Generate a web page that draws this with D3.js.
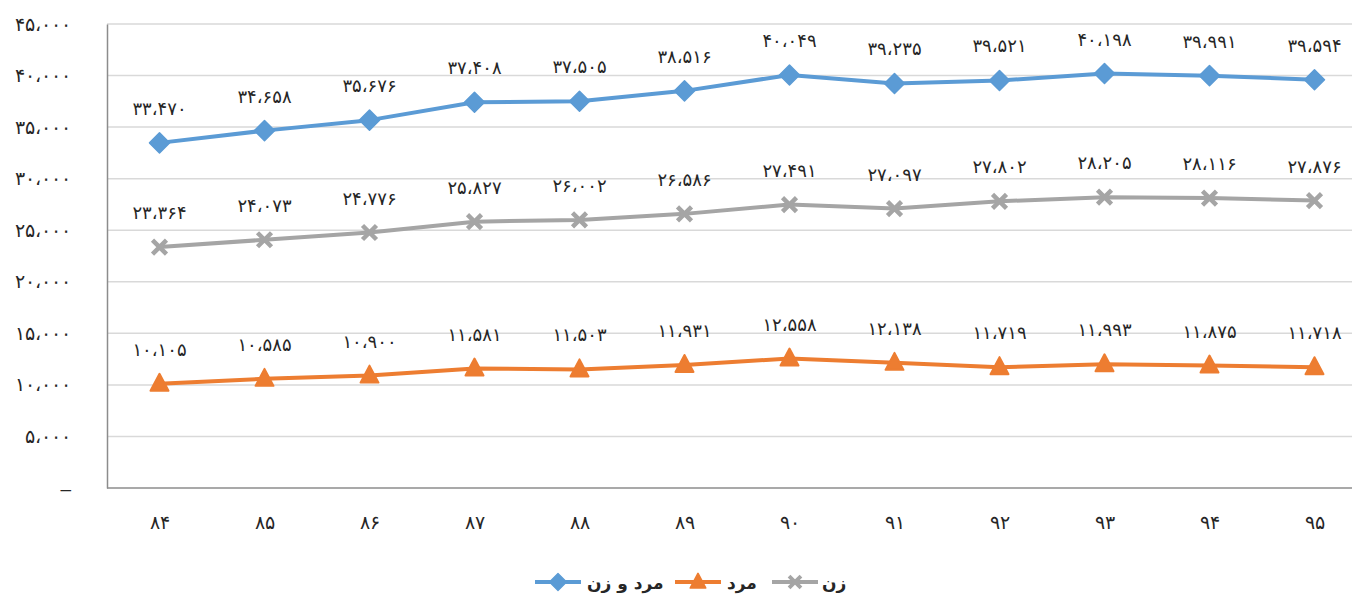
<!DOCTYPE html>
<html><head><meta charset="utf-8">
<script src="https://cdn.jsdelivr.net/npm/d3@7"></script>
<style>
html,body{margin:0;padding:0;background:#fff;}
svg{display:block;font-family:"DejaVu Sans","Noto Sans",sans-serif;}
</style></head>
<body>
<svg id="chart" width="1352" height="596"></svg>
<script>
const years = [84,85,86,87,88,89,90,91,92,93,94,95];
const both = [33470,34658,35676,37408,37505,38516,40049,39235,39521,40198,39991,39594];
const men = [10105,10585,10900,11581,11503,11931,12558,12138,11719,11993,11875,11718];
const women = [23364,24073,24776,25827,26002,26586,27491,27097,27802,28205,28116,27876];
const yTicks = [0,5000,10000,15000,20000,25000,30000,35000,40000,45000];
const seriesNames = ["مرد و زن","مرد","زن"];

const fa = s => String(s).replace(/\d/g, d => "۰۱۲۳۴۵۶۷۸۹"[d]);
const fmt = v => v === 0 ? "–" : fa(d3.format(",")(v)).replace(/,/g, "،");

const svg = d3.select("#chart");
const x = d3.scaleBand().domain(years).range([107, 1367]).padding(0);
const cx = d => x(d) + x.bandwidth()/2;
const y = d3.scaleLinear().domain([0,45000]).range([488, 24]);

// gridlines
svg.append("g").selectAll("line").data(yTicks.filter(t=>t>0)).join("line")
  .attr("x1",107).attr("x2",1352).attr("y1",d=>y(d)).attr("y2",d=>y(d))
  .attr("stroke","#d9d9d9").attr("stroke-width",1.5);

// y axis
const yAxis = svg.append("g").attr("transform","translate(107,0)")
  .call(d3.axisLeft(y).tickValues(yTicks).tickSize(0).tickPadding(36).tickFormat(fmt));
yAxis.select(".domain").attr("stroke","#8c8c8c").attr("stroke-width",1.5);
yAxis.selectAll("text").attr("font-size",19).attr("fill","#262626");

// x axis
const xAxis = svg.append("g").attr("transform","translate(0,488)")
  .call(d3.axisBottom(x).tickSize(0).tickPadding(28).tickFormat(fa));
xAxis.select(".domain").attr("stroke","#8c8c8c").attr("stroke-width",1.5).attr("d","M107,0H1352");
xAxis.selectAll("text").attr("font-size",19).attr("fill","#262626");

const series = [
  {name:seriesNames[0], values:both, color:"#5b9bd5", marker:"diamond"},
  {name:seriesNames[1], values:men, color:"#ed7d31", marker:"triangle"},
  {name:seriesNames[2], values:women, color:"#a5a5a5", marker:"x"}
];

function drawMarker(g, type, color){
  if(type==="diamond"){
    g.append("path").attr("d","M0,-10L10,0L0,10L-10,0Z").attr("fill",color).attr("stroke",color).attr("stroke-width",1.5).attr("stroke-linejoin","round");
  } else if(type==="triangle"){
    g.append("path").attr("d","M0,-10L9,7L-9,7Z").attr("fill",color).attr("stroke",color).attr("stroke-width",2).attr("stroke-linejoin","round");
  } else {
    g.append("path").attr("d","M-7,-7L7,7M-7,7L7,-7").attr("stroke",color).attr("stroke-width",4.5).attr("fill","none");
  }
}

const line = d3.line().x((d,i)=>cx(years[i])).y(d=>y(d));
series.forEach(s=>{
  svg.append("path").datum(s.values).attr("d",line).attr("fill","none")
    .attr("stroke",s.color).attr("stroke-width",4).attr("stroke-linejoin","round");
  s.values.forEach((v,i)=>{
    const g = svg.append("g").attr("transform",`translate(${cx(years[i])},${y(v)})`);
    drawMarker(g, s.marker, s.color);
    svg.append("text").attr("x",cx(years[i])).attr("y",y(v)-28)
      .attr("text-anchor","middle").attr("font-size",18).attr("fill","#262626")
      .text(fmt(v));
  });
});

// legend
const legendItems = [
  {s:series[0], lx:535, tx:587},
  {s:series[1], lx:675, tx:727},
  {s:series[2], lx:772, tx:822}
];
legendItems.forEach(it=>{
  const g = svg.append("g");
  g.append("line").attr("x1",it.lx).attr("x2",it.lx+46).attr("y1",582).attr("y2",582)
    .attr("stroke",it.s.color).attr("stroke-width",4);
  const m = g.append("g").attr("transform",`translate(${it.lx+23},582) scale(0.85)`);
  drawMarker(m, it.s.marker, it.s.color);
  g.append("text").attr("x",it.tx).attr("y",589).attr("font-size",17).attr("font-weight","bold")
    .attr("fill","#262626").attr("text-anchor","start")
    .text(it.s.name);
});
</script>
</body></html>
